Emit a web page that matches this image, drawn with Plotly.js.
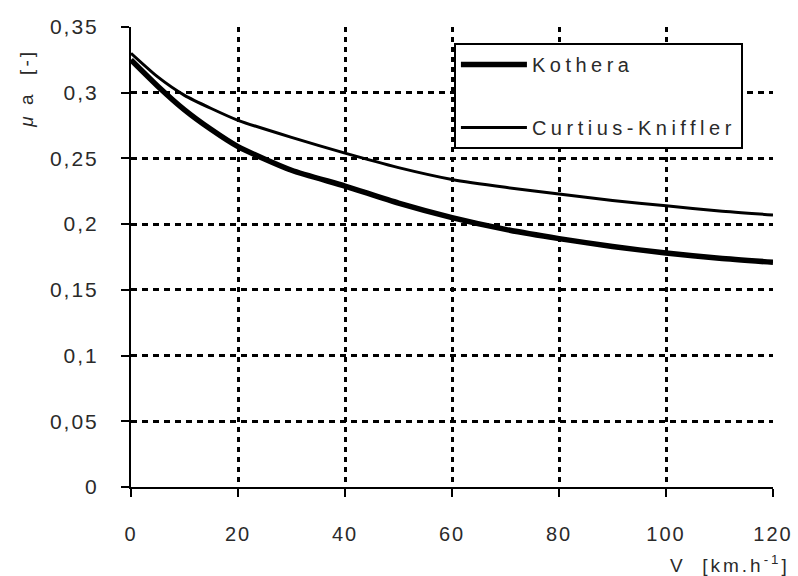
<!DOCTYPE html>
<html>
<head>
<meta charset="utf-8">
<script src="https://cdn.plot.ly/plotly-3.0.1.min.js"></script>
<style>
  html, body { margin: 0; padding: 0; background: #fff; }
  #chart { width: 798px; height: 576px; }
  .legendtext { letter-spacing: 4.5px; }
  .annotation-text { letter-spacing: 3px; }
  .xtick text, .ytick text { letter-spacing: 2px; }
</style>
</head>
<body>
<div id="chart"></div>
<script>
// Speed V [km/h]
const speed = [0, 5, 10, 15, 20, 30, 40, 50, 60, 70, 80, 90, 100, 110, 120];
// Adhesion coefficient, Kothera
const kothera = [0.325, 0.305, 0.287, 0.272, 0.259, 0.241, 0.229, 0.216, 0.205, 0.196, 0.189, 0.183, 0.178, 0.174, 0.171];
// Adhesion coefficient, Curtius-Kniffler
const curtius = [0.330, 0.312, 0.298, 0.288, 0.279, 0.266, 0.254, 0.243, 0.234, 0.228, 0.223, 0.218, 0.214, 0.210, 0.207];
const seriesNames = ["Kothera", "Curtius-Kniffler"];

const xTickVals = [0, 20, 40, 60, 80, 100, 120];
const xTickText = ["0", "20", "40", "60", "80", "100", "120"];
const yTickVals = [0, 0.05, 0.1, 0.15, 0.2, 0.25, 0.3, 0.35];
const yTickText = ["0", "0,05", "0,1", "0,15", "0,2", "0,25", "0,3", "0,35"];

const font = "Liberation Sans, Arial, sans-serif";
const txt = "#2a2a2a";

const traces = [
  { x: speed, y: kothera, name: seriesNames[0], mode: "lines",
    line: { color: "#000", width: 5.5, shape: "spline", smoothing: 0.6 }, legendgroup: "a" },
  { x: speed, y: curtius, name: seriesNames[1], mode: "lines",
    line: { color: "#000", width: 3, shape: "spline", smoothing: 0.6 }, legendgroup: "b" }
];

const layout = {
  width: 798, height: 576,
  margin: { l: 131, r: 25, t: 27, b: 89 },
  paper_bgcolor: "#fff", plot_bgcolor: "#fff",
  font: { family: font, color: txt, size: 20 },
  showlegend: true,
  legend: {
    x: 0.503, y: 0.965, xanchor: "left", yanchor: "top",
    bgcolor: "#fff", bordercolor: "#000", borderwidth: 2,
    font: { family: font, size: 20, color: txt },
    traceorder: "grouped", tracegroupgap: 34, itemwidth: 66
  },
  xaxis: {
    range: [0, 120], tickmode: "array", tickvals: xTickVals, ticktext: xTickText,
    showline: true, linecolor: "#000", linewidth: 2, zeroline: false,
    ticks: "outside", ticklen: 8, tickwidth: 2, tickcolor: "#000",
    ticklabelstandoff: 20,
    showgrid: true, gridcolor: "#000", gridwidth: 3, griddash: "5px,5px",
    tickfont: { family: font, size: 20, color: txt },
    fixedrange: true
  },
  yaxis: {
    range: [0, 0.35], tickmode: "array", tickvals: yTickVals, ticktext: yTickText,
    showline: true, linecolor: "#000", linewidth: 2, zeroline: false,
    ticks: "outside", ticklen: 8, tickwidth: 2, tickcolor: "#000",
    ticklabelstandoff: 18,
    showgrid: true, gridcolor: "#000", gridwidth: 3, griddash: "6px,5px",
    tickfont: { family: font, size: 21, color: txt },
    fixedrange: true
  },
  annotations: [
    { text: "V  [km.h<sup>-1</sup>]", xref: "paper", yref: "paper", x: 1.03, y: -0.168,
      xanchor: "right", yanchor: "middle", showarrow: false,
      font: { family: font, size: 19, color: txt } },
    { text: "<i>μ</i> a  [-]", xref: "paper", yref: "paper", x: -0.162, y: 0.868,
      xanchor: "center", yanchor: "middle", textangle: -90, showarrow: false,
      font: { family: font, size: 19, color: txt } }
  ]
};

Plotly.newPlot("chart", traces, layout, { displayModeBar: false, staticPlot: true });
</script>
</body>
</html>
